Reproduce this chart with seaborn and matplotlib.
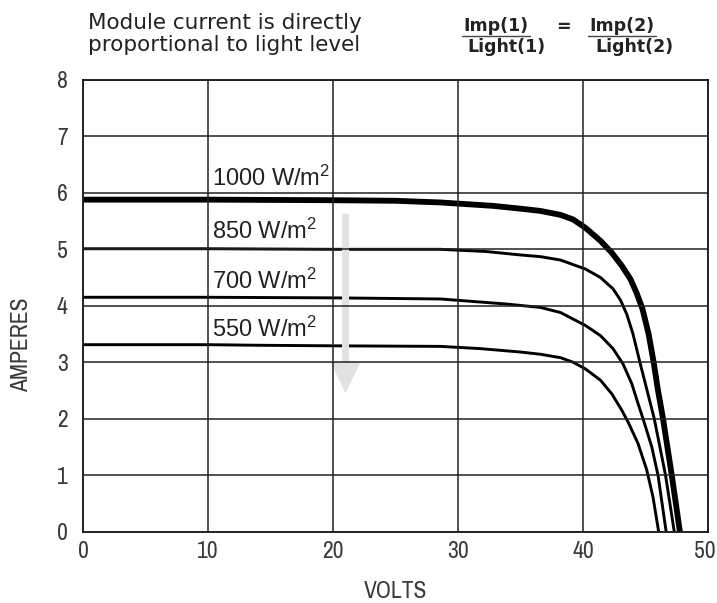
import matplotlib
matplotlib.use("Agg")
import matplotlib.pyplot as plt
import matplotlib.transforms as mtransforms
import seaborn as sns
import pandas as pd
from matplotlib.patches import FancyArrow

# ---- data ----
v_1000 = [0, 10, 20, 25, 28.6, 32.8, 35.0, 36.6, 38.2, 39.2, 40.2, 41.4, 42.3, 43.1, 43.8, 44.3, 44.75, 45.25, 45.65, 46.0, 46.4, 47.1, 47.75]
i_1000 = [5.88, 5.88, 5.87, 5.86, 5.83, 5.77, 5.72, 5.68, 5.61, 5.53, 5.38, 5.15, 4.94, 4.71, 4.47, 4.22, 3.95, 3.50, 3.00, 2.50, 2.00, 1.00, 0.0]

v_850 = [0, 10, 20, 28.6, 32.3, 35.0, 36.6, 38.2, 40.2, 41.4, 42.4, 43.0, 43.5, 44.0, 44.55, 45.7, 46.6, 47.3]
i_850 = [5.01, 5.01, 5.00, 5.00, 4.96, 4.90, 4.87, 4.81, 4.65, 4.50, 4.30, 4.10, 3.85, 3.50, 3.00, 2.00, 1.00, 0.0]

v_700 = [0, 10, 20, 28.6, 33.9, 36.6, 38.2, 40.2, 41.4, 42.4, 43.2, 43.9, 44.4, 44.8, 45.5, 46.0, 46.65]
i_700 = [4.15, 4.15, 4.14, 4.12, 4.03, 3.97, 3.88, 3.65, 3.47, 3.24, 2.97, 2.62, 2.27, 2.00, 1.50, 1.00, 0.0]

v_550 = [0, 10, 14, 20, 28.6, 31.8, 35.0, 36.6, 38.2, 39.2, 40.2, 41.4, 42.3, 43.1, 43.65, 44.4, 45.1, 45.6, 46.05]
i_550 = [3.31, 3.31, 3.30, 3.29, 3.28, 3.24, 3.18, 3.14, 3.08, 3.00, 2.88, 2.68, 2.44, 2.15, 1.92, 1.56, 1.09, 0.61, 0.0]

series_names = ["1000 W/m$\\mathregular{^2}$", "850 W/m$\\mathregular{^2}$",
                "700 W/m$\\mathregular{^2}$", "550 W/m$\\mathregular{^2}$"]
label_x = [10.3, 10.3, 10.3, 10.3]
label_y = [6.12, 5.19, 4.30, 3.45]
x_ticks = [0, 10, 20, 30, 40, 50]
y_ticks = [0, 1, 2, 3, 4, 5, 6, 7, 8]

sns.set_theme(style="white")
plt.rcParams["font.family"] = ["Liberation Sans", "DejaVu Sans"]

fig = plt.figure(figsize=(7.17, 6.03), dpi=100)
ax = fig.add_axes([83 / 717, 1 - 531.5 / 603, 625 / 717, 451.5 / 603])

curves = [(v_1000, i_1000, 4.2), (v_850, i_850, 2.1), (v_700, i_700, 2.1), (v_550, i_550, 2.1)]
for (vv, ii, lw), name in zip(curves, series_names):
    df = pd.DataFrame({"V": vv, "I": ii})
    sns.lineplot(data=df, x="V", y="I", ax=ax, color="black", linewidth=lw,
                 sort=False, estimator=None, zorder=2,
                 solid_joinstyle="round", solid_capstyle="butt")

for name, lx, ly in zip(series_names, label_x, label_y):
    ax.text(lx, ly, name, fontsize=17, color="#222222", va="baseline", ha="left",
            family="Liberation Sans", zorder=5)

arr = FancyArrow(21.0, 5.63, 0, -(5.63 - 2.45), width=0.56, head_width=2.4,
                 head_length=0.55, length_includes_head=True,
                 color="#e2e2e2", zorder=2.2, linewidth=0)
ax.add_patch(arr)

ax.set_xlim(0, 50)
ax.set_ylim(0, 8)
ax.set_xticks(x_ticks)
ax.set_yticks(y_ticks)
ax.set_axisbelow(False)
ax.grid(True, color="#222222", linewidth=1.1)
for s in ax.spines.values():
    s.set_color("black")
    s.set_linewidth(1.2)

tick_font = {"family": ["Archivo Narrow", "Liberation Sans"], "size": 17}
ax.set_xticklabels([str(t) for t in x_ticks], **tick_font)
ax.set_yticklabels([str(t) for t in y_ticks], **tick_font)
ax.tick_params(axis="both", length=0, colors="#3a3a3a")
ax.tick_params(axis="x", pad=7)
ax.tick_params(axis="y", pad=11)
# keep the last x label inside the canvas, as in the reference
last = ax.get_xticklabels()[-1]
last.set_transform(last.get_transform() + mtransforms.ScaledTranslation(-3 / 100, 0, fig.dpi_scale_trans))

ax.set_xlabel("VOLTS", fontdict=tick_font, color="#3a3a3a")
ax.set_ylabel("AMPERES", fontdict=tick_font, color="#3a3a3a")
ax.xaxis.set_label_coords(0.5, (531.5 - 592) / 451.5)
ax.xaxis.label.set_va("center")
ax.yaxis.set_label_coords((22 - 83) / 625, (531.5 - 345) / 451.5)
ax.yaxis.label.set_va("center")

fig.text(88 / 717, 1 - 34 / 603, "Module current is directly\nproportional to light level",
         fontsize=15.5, family="DejaVu Sans", color="#222222", ha="left", va="center",
         linespacing=1.1)

eq_font = dict(fontsize=12.5, family="DejaVu Sans", weight="bold", color="#222222")
fig.text(496 / 717, 1 - 26 / 603, "Imp(1)", ha="center", va="center", **eq_font)
fig.text(506 / 717, 1 - 47 / 603, "Light(1)", ha="center", va="center", **eq_font)
fig.text(563 / 717, 1 - 27 / 603, "=", ha="center", va="center", **eq_font)
fig.text(622 / 717, 1 - 26 / 603, "Imp(2)", ha="center", va="center", **eq_font)
fig.text(634 / 717, 1 - 47 / 603, "Light(2)", ha="center", va="center", **eq_font)
fig.add_artist(plt.Line2D([462 / 717, 530 / 717], [1 - 36 / 603, 1 - 36 / 603],
                          color="#444444", linewidth=1))
fig.add_artist(plt.Line2D([588 / 717, 656 / 717], [1 - 36 / 603, 1 - 36 / 603],
                          color="#444444", linewidth=1))

fig.savefig("out.png", dpi=100)
